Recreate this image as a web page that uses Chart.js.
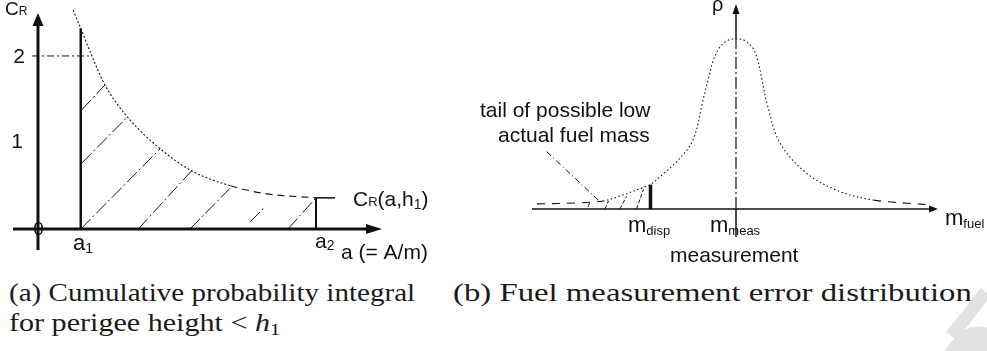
<!DOCTYPE html>
<html>
<head>
<meta charset="utf-8">
<script src="https://cdn.jsdelivr.net/npm/chart.js@4.4.1/dist/chart.umd.min.js"></script>
<style>
  html, body { margin: 0; padding: 0; background: #fff; }
  #fig { position: relative; width: 987px; height: 351px; overflow: hidden; background: #fff; }
  #panelA { position: absolute; left: 0; top: 0; }
  #panelB { position: absolute; left: 460px; top: 0; }
  .cap { position: absolute; font-family: "Liberation Serif", "Times New Roman", serif; font-size: 25px; line-height: 1;
         color: #1a1a1a; white-space: nowrap; transform-origin: 0 0; }
  .cap sub { font-size: 17px; line-height: 0; vertical-align: -4px; }
  .wm { position: absolute; background: #e2e2e2; }
</style>
</head>
<body>
<div id="fig">
  <canvas id="panelA" width="460" height="270"></canvas>
  <canvas id="panelB" width="527" height="270"></canvas>
  <div class="cap" data-w="406" style="left:9px;top:280px">(a) Cumulative probability integral</div>
  <div class="cap" data-w="271" style="left:9px;top:310px">for perigee height &lt; <i>h</i><sub>1</sub></div>
  <div class="cap" data-w="519" style="left:453px;top:280px">(b) Fuel measurement error distribution</div>
  <div class="wm" style="left:962px;top:286px;width:13px;height:56px;transform:rotate(38deg);"></div>
  <div class="wm" style="left:944px;top:330px;width:80px;height:70px;border-radius:45% 45% 0 0;transform:rotate(38deg);"></div>
</div>
<script>
const FONT = '"Liberation Sans", Arial, sans-serif';
const INK = '#111';

// ── (a) cumulative probability integral C_R(a, h1) ──────────
const crA = [0.82, 1.0, 1.26, 1.57, 2.1, 2.85, 3.6, 4.5, 5.3, 6.5];
const crValue = [2.53, 2.32, 2.0, 1.66, 1.29, 0.93, 0.67, 0.5, 0.41, 0.36];
const a1 = 1.0;
const a2 = 6.5;
const crAtA1 = 2.32;
const crAtA2 = 0.36;
const crLevel = 2;
// hatching under the curve: [a start, C start, a end, C end]
const hatchA = [
  [1.02, 1.376, 1.566, 1.665],
  [1.02, 0.76, 2.097, 1.298],
  [1.0, 0.0, 2.852, 0.925],
  [2.345, 0.0, 3.594, 0.674],
  [3.554, 0.0, 4.489, 0.47],
  [4.957, 0.081, 5.307, 0.254],
  [5.845, 0.0, 6.5, 0.36]
];

// ── (b) fuel measurement error density ──────────────────────
const massOffset = [-19.9, -16.1, -13.3, -11.9, -9.1, -8.55, -7.3, -5.9, -4.3, -3.3, -2.7, -2.3, -1.7, -0.9, 0,
                    0.9, 1.7, 2.2, 2.6, 3.1, 4.4, 7.07, 10.4, 13.7, 17.1, 19.7];
const density = [0.03, 0.035, 0.047, 0.07, 0.13, 0.143, 0.205, 0.28, 0.406, 0.64, 0.78, 0.87, 0.945, 0.99, 1.0,
                 0.99, 0.945, 0.87, 0.76, 0.62, 0.388, 0.21, 0.102, 0.053, 0.034, 0.024];
const mMeas = 0;
const mDisp = -8.55;
const densityAtDisp = 0.143;
const hatchB = [
  [-14.8, 0.012, -14.6, 0.041],
  [-13.1, 0.0, -12.75, 0.047],
  [-11.6, 0.0, -10.95, 0.074],
  [-9.95, 0.0, -9.25, 0.115]
];
const leader = [-18.93, 0.337, -13.6, 0.043];

const pts = (xs, ys) => xs.map((x, i) => ({x, y: ys[i]}));
const seg = s => [{x: s[0], y: s[1]}, {x: s[2], y: s[3]}];

function stroke(data, width, dash, extra) {
  return Object.assign({
    data, borderColor: INK, borderWidth: width, borderDash: dash || [],
    pointRadius: 0, fill: false, tension: 0, borderCapStyle: 'butt'
  }, extra || {});
}

// text pieces: [text, size, baseline shift]
function label(x, y, parts, align) {
  return {x, y, parts, align: align || 'left'};
}

const figureMarks = {
  id: 'figureMarks',
  afterDatasetsDraw(chart, args, opts) {
    const {ctx, scales: {x, y}} = chart;
    ctx.save();
    ctx.fillStyle = INK;
    (opts.arrows || []).forEach(a => {
      const px = x.getPixelForValue(a.x), py = y.getPixelForValue(a.y);
      ctx.beginPath();
      if (a.dir === 'up') {
        ctx.moveTo(px, py);
        ctx.lineTo(px - a.half, py + a.len);
        ctx.lineTo(px + a.half, py + a.len);
      } else {
        ctx.moveTo(px, py);
        ctx.lineTo(px - a.len, py - a.half);
        ctx.lineTo(px - a.len, py + a.half);
      }
      ctx.closePath();
      ctx.fill();
    });
    ctx.textBaseline = 'alphabetic';
    (opts.labels || []).forEach(l => {
      let px = x.getPixelForValue(l.x);
      const py = y.getPixelForValue(l.y);
      let total = 0;
      l.parts.forEach(p => { ctx.font = p[1] + 'px ' + FONT; total += ctx.measureText(p[0]).width; });
      if (l.align === 'right') px -= total;
      if (l.align === 'center') px -= total / 2;
      l.parts.forEach(p => {
        ctx.font = p[1] + 'px ' + FONT;
        ctx.fillText(p[0], px, py + (p[2] || 0));
        px += ctx.measureText(p[0]).width;
      });
    });
    ctx.restore();
  }
};

function baseOptions(xmin, xmax, ymin, ymax, marks) {
  return {
    responsive: false,
    animation: false,
    events: [],
    layout: {padding: 0},
    plugins: {legend: {display: false}, tooltip: {enabled: false}, figureMarks: marks},
    scales: {
      x: {type: 'linear', display: false, min: xmin, max: xmax},
      y: {type: 'linear', display: false, min: ymin, max: ymax}
    }
  };
}

// ── panel (a) ──
new Chart(document.getElementById('panelA'), {
  type: 'line',
  data: {
    datasets: [
      stroke([{x: -0.585, y: 0}, {x: 7.7, y: 0}], 3),
      stroke([{x: 0, y: -0.243}, {x: 0, y: 2.35}], 3),
      stroke([{x: a1, y: 0}, {x: a1, y: crAtA1}], 2.5),
      stroke([{x: -0.14, y: crLevel}, {x: 1.26, y: crLevel}], 1, [7, 3, 2, 3]),
      ...hatchA.map(h => stroke(seg(h), 1, [14, 3, 2, 3])),
      stroke([{x: a2, y: 0}, {x: a2, y: crAtA2}], 2),
      stroke([{x: a2, y: crAtA2}, {x: 6.944, y: crAtA2}], 1.5),
      stroke(pts(crA, crValue), 1.1, [2, 2], {
        cubicInterpolationMode: 'monotone',
        segment: {borderDash: c => c.p0.parsed.x >= 4.5 ? [7, 5] : [2, 2]}
      })
    ]
  },
  options: baseOptions(-0.888, 9.867, -0.474, 2.647, {
    arrows: [
      {x: 8.043, y: 0, dir: 'right', len: 16, half: 5},
      {x: 0, y: 2.497, dir: 'up', len: 13, half: 5.5}
    ],
    labels: [
      label(-0.772, 2.474, [['C', 19], ['R', 12]]),
      label(-0.304, 1.919, [['2', 21]], 'right'),
      label(-0.351, 0.936, [['1', 21]], 'right'),
      label(-0.11, -0.07, [['0', 19]]),
      label(0.818, -0.243, [['a', 22], ['1', 14, 3]]),
      label(6.476, -0.22, [['a', 21], ['2', 14, 2]]),
      label(7.084, -0.347, [['a (= A/m)', 21]]),
      label(7.365, 0.266, [['C', 21], ['R', 13], ['(a,h', 21], ['1', 14, 3], [')', 21]])
    ]
  }),
  plugins: [figureMarks]
});

// ── panel (b) ──
new Chart(document.getElementById('panelB'), {
  type: 'line',
  data: {
    datasets: [
      stroke([{x: -20.4, y: 0}, {x: 19.4, y: 0}], 1.5),
      stroke([{x: mMeas, y: 1.0}, {x: mMeas, y: 1.15}], 1.5),
      stroke([{x: mMeas, y: 0}, {x: mMeas, y: 1.0}], 1.2, [12, 3, 2, 3]),
      stroke([{x: mMeas, y: -0.165}, {x: mMeas, y: 0}], 1.5),
      stroke([{x: mDisp, y: 0}, {x: mDisp, y: densityAtDisp}], 3.5),
      ...hatchB.map(h => stroke(seg(h), 1, [4, 2])),
      stroke(seg(leader), 1, [6, 3, 1, 3]),
      stroke(pts(massOffset, density), 1.1, [2, 3], {
        tension: 0.35,
        segment: {borderDash: c => (c.p0.parsed.x < -13.5 || c.p0.parsed.x >= 13.7) ? [8, 7] : [1.5, 2.5]}
      })
    ]
  },
  options: baseOptions(-27.6, 25.1, -0.359, 1.229, {
    arrows: [
      {x: 20.2, y: 0, dir: 'right', len: 9, half: 3.5},
      {x: mMeas, y: 1.206, dir: 'up', len: 10, half: 3.5}
    ],
    labels: [
      label(-2.4, 1.165, [['\u03c1', 20]]),
      label(-25.6, 0.541, [['tail of possible low', 21]]),
      label(-23.8, 0.391, [['actual fuel mass', 21]]),
      label(-10.8, -0.135, [['m', 22], ['disp', 13, 3]]),
      label(-2.6, -0.135, [['m', 22], ['meas', 13, 3]]),
      label(20.9, -0.094, [['m', 22], ['fuel', 13, 3]]),
      label(-6.6, -0.312, [['measurement', 21]])
    ]
  }),
  plugins: [figureMarks]
});

// stretch the serif captions to their set widths
document.querySelectorAll('.cap').forEach(el => {
  const w = +el.dataset.w;
  el.style.transform = 'scaleX(' + (w / el.offsetWidth).toFixed(3) + ')';
});
</script>
</body>
</html>
